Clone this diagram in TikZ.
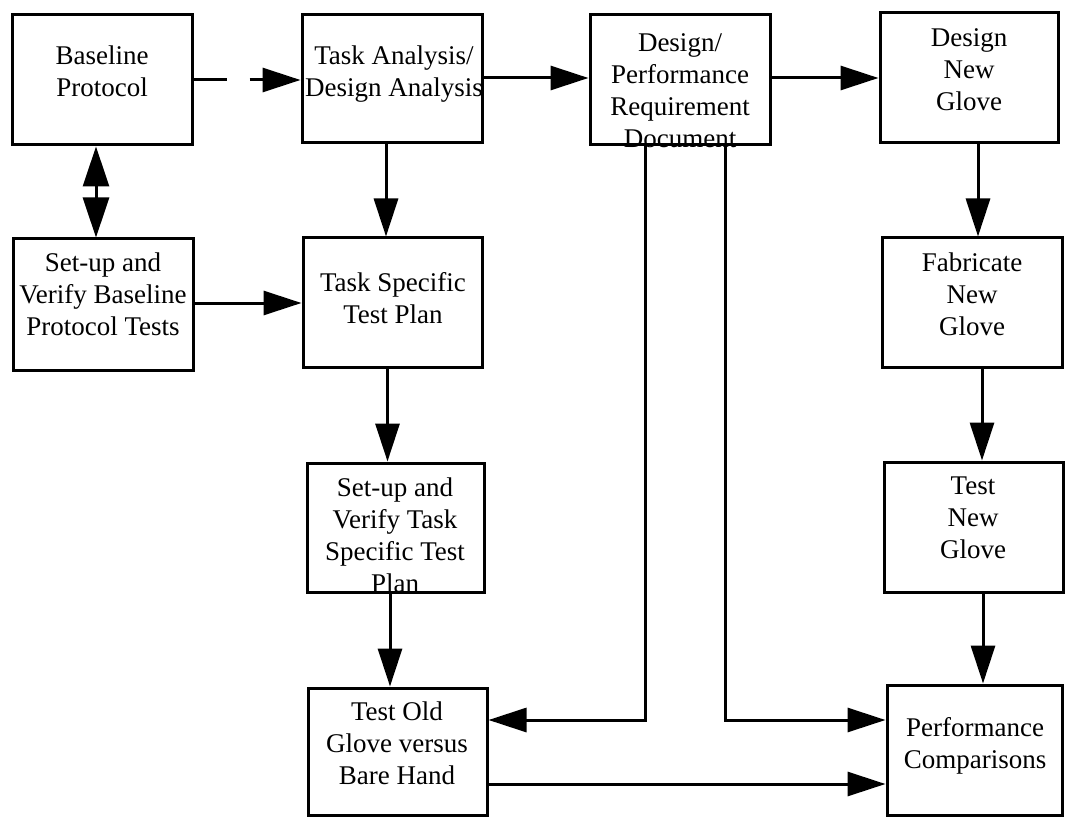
\documentclass[tikz,border=0pt]{standalone}
\usepackage{fontspec}
\setmainfont{Liberation Serif}
\usetikzlibrary{arrows.meta}
\tikzset{
  box/.style={draw, line width=3pt, inner sep=0pt},
  txt/.style={align=center, inner sep=0pt, anchor=north, font=\fontsize{27}{32}\selectfont},
  arr/.style={line width=3pt, -{Triangle[length=38pt,width=24pt]}},
  dbl/.style={line width=3pt, {Triangle[length=40pt,width=26pt]}-{Triangle[length=40pt,width=26pt]}},
}
\begin{document}
\begin{tikzpicture}[x=1pt,y=-1pt]
\useasboundingbox (0,0) rectangle (1067,818);
% boxes
\node[box, minimum width=180pt, minimum height=130pt] (bp) at (102,80) {};
\node[box, minimum width=180pt, minimum height=128pt] (ta) at (392,79) {};
\node[box, minimum width=180pt, minimum height=130pt] (dp) at (680,80) {};
\node[box, minimum width=178pt, minimum height=130pt] (dn) at (969,78) {};
\node[box, minimum width=180pt, minimum height=131pt] (sb) at (103,304.5) {};
\node[box, minimum width=179pt, minimum height=129pt] (ts) at (392.5,302.5) {};
\node[box, minimum width=180pt, minimum height=129pt] (fn) at (972,302.5) {};
\node[box, minimum width=177pt, minimum height=129pt] (st) at (395.5,527.5) {};
\node[box, minimum width=179pt, minimum height=130pt] (tn) at (973.5,527) {};
\node[box, minimum width=179pt, minimum height=127pt] (to) at (397.5,751.5) {};
\node[box, minimum width=175pt, minimum height=130pt] (pc) at (974.5,750) {};
% texts
\node[txt] (bpt) at (102,46) {Baseline\\Protocol};
\node[txt] (tat) at (394,46) {Task Analysis/\\Design Analysis};
\node[txt] (dpt) at (680,33) {Design/\\Performance\\Requirement\\Document};
\node[txt] (dnt) at (969,28) {Design\\New\\Glove};
\node[txt] (sbt) at (103,253) {Set-up and\\Verify Baseline\\Protocol Tests};
\node[txt] (tst) at (393,272) {Task Specific\\Test Plan};
\node[txt] (fnt) at (972,253) {Fabricate\\New\\Glove};
\node[txt] (stt) at (395,478) {Set-up and\\Verify Task\\Specific Test\\Plan};
\node[txt] (tnt) at (973,477) {Test\\New\\Glove};
\node[txt] (tot) at (397,702) {Test Old\\Glove versus\\Bare Hand};
\node[txt] (pct) at (975,717) {Performance\\Comparisons};
% connectors
\draw[arr, dash pattern=on 33pt off 23pt on 300pt] (bp.east) -- (bp.east -| ta.west);
\draw[dbl] ([xshift=-6pt]bp.south) -- ([xshift=-6pt]bp.south |- sb.north);
\draw[arr] ([xshift=-6pt]ta.south) -- ([xshift=-6pt]ta.south |- ts.north);
\draw[arr] ([yshift=1.5pt]sb.east) -- ([yshift=1.5pt]sb.east -| ts.west);
\draw[arr] ([xshift=-5pt]ts.south) -- ([xshift=-5pt]ts.south |- st.north);
\draw[arr] ([xshift=-5.5pt]st.south) -- ([xshift=-5.5pt]st.south |- to.north);
\draw[arr] ([yshift=1pt]ta.east) -- ([yshift=1pt]ta.east -| dp.west);
\draw[arr] (dp.east |- dn.west) -- (dn.west);
\draw[arr] ([xshift=9pt]dn.south) -- ([xshift=9pt]dn.south |- fn.north);
\draw[arr] ([xshift=10pt]fn.south) -- ([xshift=10pt]fn.south |- tn.north);
\draw[arr] ([xshift=9.5pt]tn.south) -- ([xshift=9.5pt]tn.south |- pc.north);
\draw[arr] ([xshift=-35pt]dp.south) |- ([yshift=31.5pt]to.east);
\draw[arr] ([xshift=45pt]dp.south) |- ([yshift=30pt]pc.west);
\draw[arr] ([yshift=-32.5pt]to.east) -- ([yshift=-32.5pt]to.east -| pc.west);
\end{tikzpicture}
\end{document}
